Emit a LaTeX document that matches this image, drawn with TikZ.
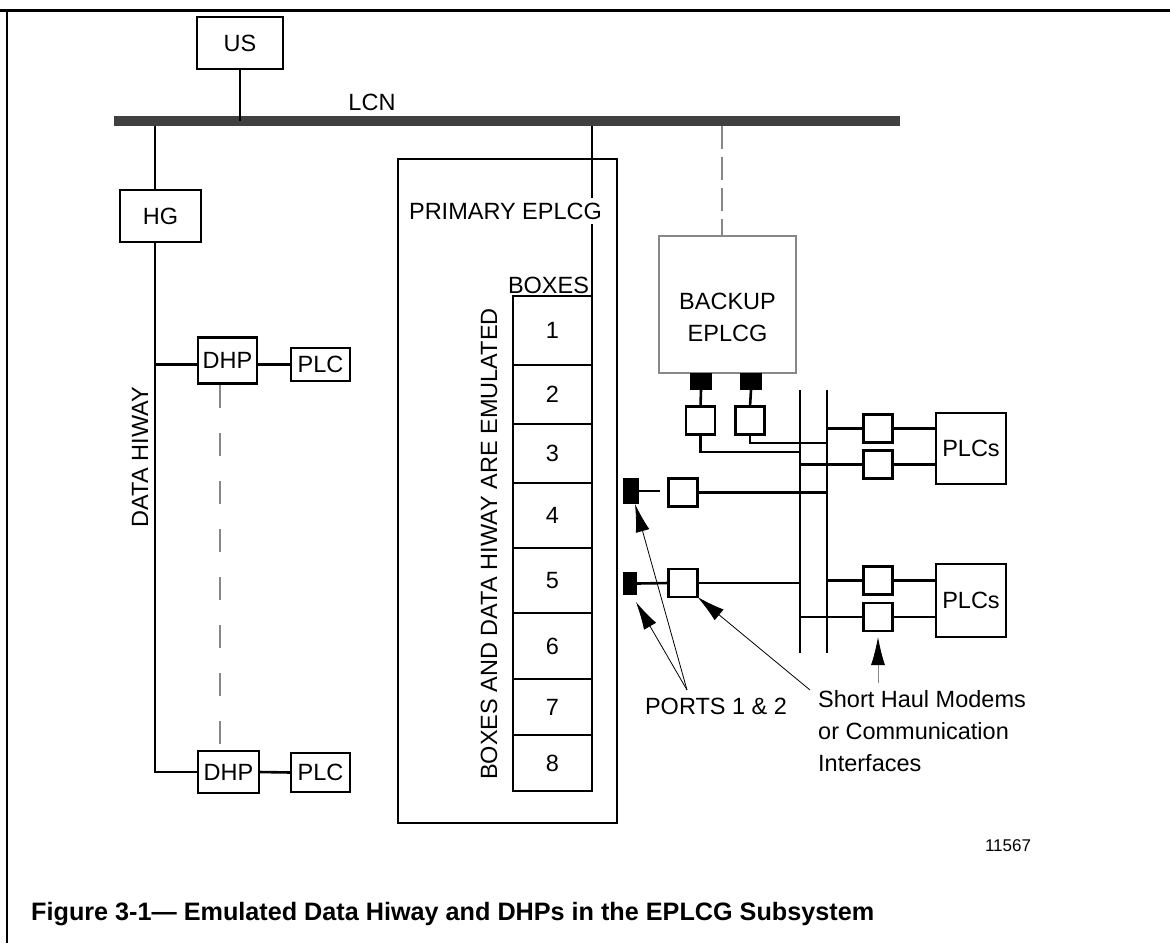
\documentclass[tikz,border=0pt]{standalone}
\usepackage{fontspec}
\setmainfont{Liberation Sans}
\usetikzlibrary{arrows.meta}
\definecolor{lcngray}{HTML}{404040}
\definecolor{dashgray}{HTML}{888888}
\tikzset{
  unit/.style={draw, line width=2.6pt, inner sep=0pt, outer sep=0pt},
  modem/.style={unit, minimum width=29pt, minimum height=28pt},
  portbox/.style={fill=black, inner sep=0pt, outer sep=0pt},
  bus/.style={line width=2.6pt},
  lead/.style={line width=0.8pt, -{Latex[length=28pt,width=14pt]}},
}
\begin{document}
\begin{tikzpicture}[x=1pt,y=-1pt,font=\fontsize{23.5}{32}\selectfont]
\useasboundingbox (0,0) rectangle (1170,943);
% frame
\draw[line width=3pt] (0,10) -- (1170,10);
\draw[line width=2pt] (6.5,10) -- (6.5,943);
% LCN
\node[fill=lcngray, inner sep=0pt, minimum width=786pt, minimum height=10pt] (lcn) at (507,121) {};
\node (lcnlbl) at (372,102) {LCN};
\node[unit, minimum width=86pt, minimum height=52pt] (us) at (240,43) {US};
\draw[bus] (us.south) -- (us.south |- lcn);
% data hiway
\node[unit, minimum width=81pt, minimum height=52pt] (hg) at (160.5,216) {HG};
\coordinate (hw) at (155,0);
\draw[bus] (hw |- lcn.south) -- (hw |- hg.north);
\node[unit, minimum width=59pt, minimum height=46pt] (dhp1) at (227.5,360.5) {DHP};
\node[unit, minimum width=59pt, minimum height=33pt] (plc1) at (320.5,364.5) {PLC};
\node[unit, minimum width=61pt, minimum height=42pt] (dhp2) at (228.5,772) {DHP};
\node[unit, minimum width=59pt, minimum height=39pt] (plc2) at (320.5,772.5) {PLC};
\draw[bus] (hw |- hg.south) |- (dhp2.west);
\draw[bus] (hw |- plc1) -- (dhp1.west |- plc1);
\draw[bus] (dhp1.east |- plc1) -- (plc1.west);
\draw[bus] (dhp2.east) -- (plc2.west);
\draw[dashgray, line width=2pt, dash pattern=on 23pt off 25pt] (220,385) -- (220,745);
\node[rotate=90] (dhlbl) at (140,457) {DATA HIWAY};
% primary EPLCG
\node[unit, minimum width=219pt, minimum height=664pt] (prim) at (507.5,491) {};
\foreach \n/\t/\b in {1/296/365,2/365/424,3/424/483,4/483/548,5/548/613,6/613/679,7/679/735,8/735/791}{
  \node[unit, minimum width=79pt, minimum height={(\b-\t)*1pt}] (box\n) at (552.5,{(\t+\b)/2}) {\n};
}
\draw[bus] (box1.north east |- lcn.south) -- (box1.north east);
\node[fill=white, inner xsep=1pt, inner ysep=5pt] (primlbl) at (505.5,211) {PRIMARY EPLCG};
\node[anchor=south, inner sep=2pt] (boxeslbl) at ([xshift=-4pt]box1.north) {BOXES};
\node[rotate=90] (emul) at (489,544) {BOXES AND DATA HIWAY ARE EMULATED};
% backup EPLCG
\node[unit, draw=dashgray, minimum width=137pt, minimum height=137pt] (backup) at (727.5,304.5) {};
\node[align=center] (backuplbl) at (727.5,317) {BACKUP\\EPLCG};
\draw[dashgray, line width=2pt, dash pattern=on 23pt off 8pt] (722,126) -- (722,236);
\node[portbox, minimum width=22pt, minimum height=17pt] (bpa) at (701,381.5) {};
\node[portbox, minimum width=22pt, minimum height=17pt] (bpb) at (751,381.5) {};
\node[modem] (ma) at (700.5,420.5) {};
\node[modem] (mb) at (750,420.5) {};
\draw[bus] (bpa.south) -- (ma.north);
\draw[bus] (bpb.south) -- (mb.north);
% buses
\coordinate (bus1) at (800,390);
\coordinate (bus2) at (827,390);
\draw[bus] (bus1) -- (800,653);
\draw[bus] (bus2) -- (827,653);
\draw[bus] (ma.south) |- (bus1 |- 0,452);
\draw[bus] (mb.south) |- (bus2 |- 0,443);
% PLCs
\node[unit, minimum width=70pt, minimum height=71pt] (plcs1) at (971,448.5) {PLCs};
\node[unit, minimum width=70pt, minimum height=73pt] (plcs2) at (971,600.5) {PLCs};
\node[modem] (t1) at (878,428.5) {};
\node[modem] (t2) at (878,464.5) {};
\node[modem] (t3) at (878,580.5) {};
\node[modem] (t4) at (878,617) {};
\draw[bus] (bus2 |- t1) -- (t1.west) (t1.east) -- (t1.east -| plcs1.west);
\draw[bus] (bus1 |- t2) -- (t2.west) (t2.east) -- (t2.east -| plcs1.west);
\draw[bus] (bus2 |- t3) -- (t3.west) (t3.east) -- (t3.east -| plcs2.west);
\draw[bus] (bus1 |- t4) -- (t4.west) (t4.east) -- (t4.east -| plcs2.west);
% ports 1 & 2
\node[portbox, minimum width=16pt, minimum height=26pt] (port1) at (631,491) {};
\node[portbox, minimum width=14pt, minimum height=23pt] (port2) at (630,583.5) {};
\node[modem] (p1) at (683,492.5) {};
\node[modem] (p2) at (683,583) {};
\draw[bus] (port1.east) -- ++(21,0);
\draw[bus] (p1.east) -- (p1.east -| bus2);
\draw[bus] (port2.east) -- (p2.west);
\draw[bus] (p2.east) -- (p2.east -| bus1);
% leaders
\node[anchor=base] (ports) at (716,714) {PORTS 1 \& 2};
\coordinate (portsarr) at (687,690);
\draw[lead] (portsarr) -- ([xshift=4pt]port1.south);
\draw[lead] (portsarr) -- ([xshift=6pt,yshift=-7pt]port2.south);
\node[align=left, anchor=north west, inner sep=0pt] (shm) at (818,690) {Short Haul Modems\\or Communication\\Interfaces};
\draw[lead] (810,690) -- (p2.south east);
\draw[lead, draw=dashgray, -{Latex[length=28pt,width=14pt,color=black]}] (t4.south |- 0,683) -- ([yshift=-6pt]t4.south);
\node[font=\fontsize{17}{20}\selectfont] (fignum) at (1008,846) {11567};
\node[anchor=base west, inner sep=0pt, font=\bfseries\fontsize{25.2}{30}\selectfont] (caption) at (31,920) {Figure 3-1— Emulated Data Hiway and DHPs in the EPLCG Subsystem};
\end{tikzpicture}
\end{document}
